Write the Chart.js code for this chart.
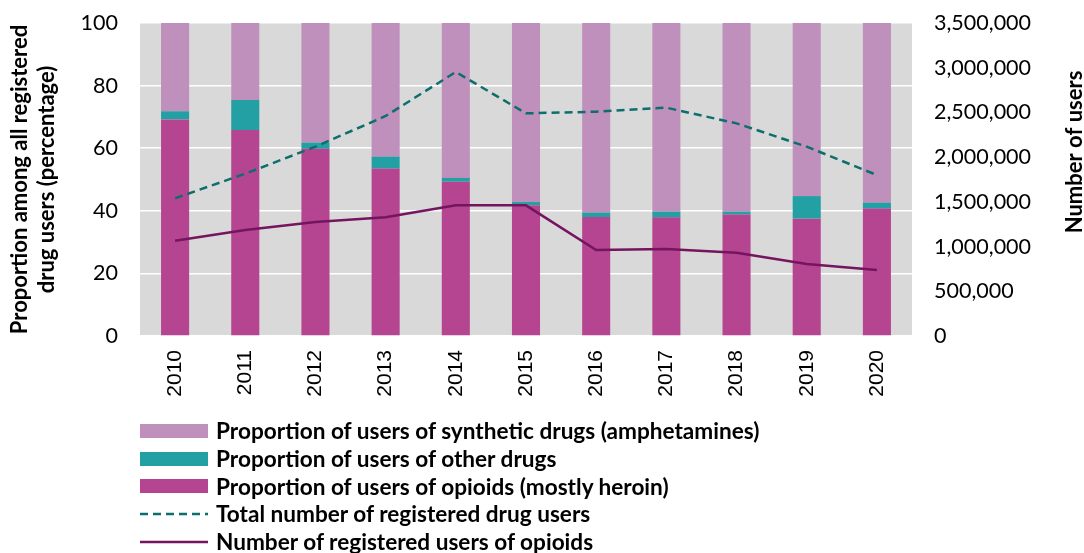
<!DOCTYPE html>
<html>
<head>
<meta charset="utf-8">
<script src="https://cdn.jsdelivr.net/npm/chart.js@4.4.1/dist/chart.umd.min.js"></script>
<style>
    html, body { margin: 0; padding: 0; background: #fff; }
    #wrap { position: relative; width: 1084px; height: 553px; }
    #legend { position: absolute; left: 140px; top: 417px; font-family: Lato, "Open Sans", sans-serif; font-weight: bold; font-size: 22.6px; color: #000; }
    .row { height: 27.7px; display: flex; align-items: center; white-space: nowrap; }
    .swatch { width: 68px; height: 14px; margin-right: 8px; flex: none; }
</style>
</head>
<body>
<div id="wrap">
    <canvas id="chart" width="1084" height="553"></canvas>
    <div id="legend"></div>
</div>
<script>
// data
const years = ['2010', '2011', '2012', '2013', '2014', '2015', '2016', '2017', '2018', '2019', '2020'];
const opioidShare = [69.2, 65.8, 59.8, 53.5, 49.3, 41.8, 38.0, 37.9, 38.8, 37.5, 40.7];
const otherShare = [2.6, 9.6, 2.0, 3.8, 1.2, 1.0, 1.4, 1.8, 0.9, 7.2, 1.9];
const syntheticShare = [28.2, 24.6, 38.2, 42.7, 49.5, 57.2, 60.6, 60.3, 60.3, 55.3, 57.4];
const totalUsers = [1540000, 1815000, 2117000, 2460000, 2952000, 2490000, 2508000, 2553000, 2378000, 2117000, 1800000];
const opioidUsers = [1066000, 1185000, 1275000, 1327000, 1461000, 1461000, 962000, 973000, 932000, 805000, 738000];

const tickFont = { family: 'Lato, "Open Sans", sans-serif', size: 21.5 };
const titleFont = { family: 'Lato, "Open Sans", sans-serif', size: 22, weight: 'bold', lineHeight: 1.2 };

const plotBackground = {
    id: 'plotBackground',
    beforeDraw(chart) {
        const { ctx, chartArea } = chart;
        ctx.save();
        ctx.fillStyle = '#d9d9d9';
        ctx.fillRect(chartArea.left, chartArea.top, chartArea.right - chartArea.left, chartArea.bottom - chartArea.top);
        ctx.restore();
    }
};

// right axis title reads bottom to top, so it is drawn here
const rightTitle = {
    id: 'rightTitle',
    afterDraw(chart) {
        const ctx = chart.ctx;
        ctx.save();
        ctx.translate(1075, 152);
        ctx.rotate(-Math.PI / 2);
        ctx.font = `bold 22px ${titleFont.family}`;
        ctx.fillStyle = '#000';
        ctx.textAlign = 'center';
        ctx.textBaseline = 'middle';
        ctx.fillText('Number of users', 0, 0);
        ctx.restore();
    }
};

// keep the y axes from pushing the plot area down for their label overflow
function fitY(width) {
    return axis => {
        axis.width = width;
        axis.paddingTop = 0;
        axis.paddingBottom = 0;
    };
}

const chart = new Chart(document.getElementById('chart'), {
    type: 'bar',
    data: {
        labels: years,
        datasets: [
            { label: 'Proportion of users of opioids (mostly heroin)', data: opioidShare, backgroundColor: '#b54590', yAxisID: 'y', order: 1 },
            { label: 'Proportion of users of other drugs', data: otherShare, backgroundColor: '#22a0a3', yAxisID: 'y', order: 1 },
            { label: 'Proportion of users of synthetic drugs (amphetamines)', data: syntheticShare, backgroundColor: '#bf90bc', yAxisID: 'y', order: 1 },
            { type: 'line', label: 'Total number of registered drug users', data: totalUsers, borderColor: '#0e6e6e', borderWidth: 2.5, borderDash: [8, 5], pointRadius: 0, fill: false, yAxisID: 'y1', order: 0 },
            { type: 'line', label: 'Number of registered users of opioids', data: opioidUsers, borderColor: '#75145f', borderWidth: 2.5, pointRadius: 0, fill: false, yAxisID: 'y1', order: 0 }
        ]
    },
    options: {
        responsive: false,
        animation: false,
        datasets: { bar: { categoryPercentage: 1, barPercentage: 0.4 } },
        layout: { padding: { top: 23, bottom: 137, left: 0, right: 0 } },
        plugins: { legend: { display: false }, tooltip: { enabled: false } },
        scales: {
            x: {
                stacked: true,
                grid: { display: false },
                border: { display: false },
                ticks: { minRotation: 90, maxRotation: 90, padding: 6, color: '#000', font: { family: '"Liberation Sans", Arial, sans-serif', size: 21 } },
                afterFit: axis => { axis.height = 80; }
            },
            y: {
                stacked: true,
                position: 'left',
                min: 0,
                max: 100,
                ticks: { stepSize: 20, padding: 22, color: '#000', font: tickFont },
                grid: { color: '#ffffff', lineWidth: 1.5, drawTicks: false },
                border: { display: false },
                title: { display: true, text: ['Proportion among all registered', 'drug users (percentage)'], color: '#000', font: titleFont, padding: { top: 7 } },
                afterFit: fitY(140)
            },
            y1: {
                position: 'right',
                min: 0,
                max: 3500000,
                ticks: { stepSize: 500000, padding: 22, color: '#000', font: tickFont, callback: v => v.toLocaleString('en-US') },
                grid: { display: false, drawTicks: false },
                border: { display: false },
                afterFit: fitY(172)
            }
        }
    },
    plugins: [plotBackground, rightTitle]
});

function renderLegend() {
    const legendOrder = [2, 1, 0, 3, 4];
    let html = '';
    legendOrder.forEach(i => {
        const ds = chart.data.datasets[i];
        if (ds.type === 'line') {
            const dash = ds.borderDash ? `stroke-dasharray="${ds.borderDash.join(' ')}"` : '';
            html += `<div class="row"><svg class="swatch" width="68" height="14"><line x1="0" y1="7" x2="68" y2="7" stroke="${ds.borderColor}" stroke-width="${ds.borderWidth}" ${dash}/></svg>${ds.label}</div>`;
        } else {
            html += `<div class="row"><span class="swatch" style="background:${ds.backgroundColor}"></span>${ds.label}</div>`;
        }
    });
    document.getElementById('legend').innerHTML = html;
}
renderLegend();
</script>
</body>
</html>
